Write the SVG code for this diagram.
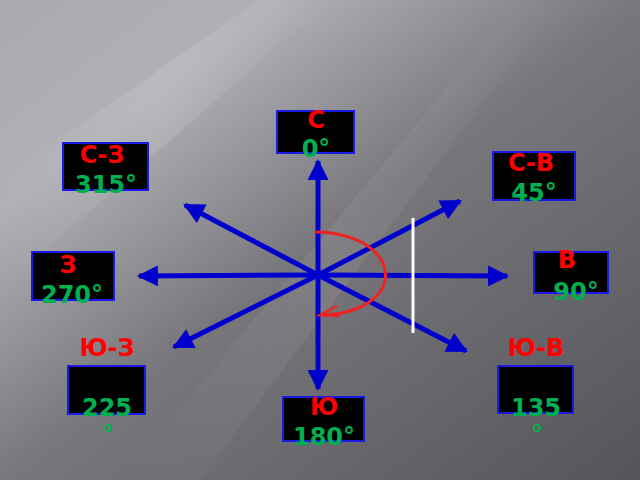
<svg xmlns="http://www.w3.org/2000/svg" width="640" height="480" viewBox="0 0 640 480">
<defs>
<linearGradient id="bg" x1="0" y1="0" x2="1" y2="1">
<stop offset="0" stop-color="#a9a9b0"/>
<stop offset="0.22" stop-color="#b0b0b6"/>
<stop offset="0.5" stop-color="#78787c"/>
<stop offset="1" stop-color="#555559"/>
</linearGradient>
<linearGradient id="streak" x1="0" y1="0" x2="1" y2="0">
<stop offset="0" stop-color="#ffffff" stop-opacity="0"/>
<stop offset="0.5" stop-color="#ffffff" stop-opacity="0.12"/>
<stop offset="1" stop-color="#ffffff" stop-opacity="0"/>
</linearGradient>
<marker id="ah" viewBox="0 0 10 10" refX="9" refY="5" markerWidth="4.4" markerHeight="4.2" orient="auto" markerUnits="strokeWidth">
<path d="M0,0 L10,5 L0,10 Z" fill="#0000cc"/>
</marker>
<style>
.box{fill:#000;stroke:#1a1ae6;stroke-width:2}
.dir{font-family:"DejaVu Sans",sans-serif;font-weight:bold;font-size:24px;fill:#ff0000;text-anchor:middle}
.deg{font-family:"DejaVu Sans",sans-serif;font-weight:bold;font-size:24px;fill:#00b050;text-anchor:middle}
.arr{stroke:#0000cc;stroke-width:5;fill:none;marker-end:url(#ah)}
</style>
</defs>
<rect width="640" height="480" fill="url(#bg)"/>
<polygon points="0,180 260,0 330,0 0,290" fill="url(#streak)"/>
<polygon points="120,480 520,0 560,0 200,480" fill="url(#streak)" opacity="0.6"/>
<g id="connectors">
<line class="arr" x1="318" y1="275" x2="318" y2="161"/>
<line class="arr" x1="318" y1="275" x2="318" y2="389"/>
<line class="arr" x1="318" y1="275" x2="507" y2="276"/>
<line class="arr" x1="318" y1="275" x2="139" y2="276"/>
<line class="arr" x1="318" y1="275" x2="460" y2="201"/>
<line class="arr" x1="318" y1="275" x2="185" y2="205"/>
<line class="arr" x1="318" y1="275" x2="174" y2="347"/>
<line class="arr" x1="318" y1="275" x2="466" y2="351"/>
<line x1="413" y1="218" x2="413" y2="333" stroke="#ffffff" stroke-width="3"/>
<path d="M316,232 C405,234 410,312 322,315" fill="none" stroke="#ee2222" stroke-width="3"/>
<path d="M337,306 L320,315 L340,316" fill="none" stroke="#ee2222" stroke-width="2.5"/>
</g>
<g id="n"><rect class="box" x="277" y="111" width="77" height="42"/><text class="dir" x="316" y="128">С</text><text class="deg" x="316" y="157">0°</text></g>
<g id="nw"><rect class="box" x="63" y="143" width="85" height="47"/><text class="dir" x="102" y="163">С-З</text><text class="deg" x="106" y="193">315°</text></g>
<g id="ne"><rect class="box" x="493" y="152" width="82" height="48"/><text class="dir" x="531" y="171">С-В</text><text class="deg" x="534" y="201">45°</text></g>
<g id="w"><rect class="box" x="32" y="252" width="82" height="48"/><text class="dir" x="68" y="273">З</text><text class="deg" x="72" y="303">270°</text></g>
<g id="e"><rect class="box" x="534" y="252" width="74" height="41"/><text class="dir" x="567" y="268">В</text><text class="deg" x="576" y="300">90°</text></g>
<g id="sw"><text class="dir" x="107" y="356">Ю-З</text><rect class="box" x="68" y="366" width="77" height="48"/><text class="deg" x="107" y="416">225</text><text class="deg" x="108" y="443">°</text></g>
<g id="se"><text class="dir" x="536" y="356">Ю-В</text><rect class="box" x="498" y="366" width="75" height="47"/><text class="deg" x="536" y="416">135</text><text class="deg" x="537" y="443">°</text></g>
<g id="s"><rect class="box" x="283" y="397" width="81" height="44"/><text class="dir" x="324" y="415">Ю</text><text class="deg" x="324" y="445">180°</text></g>
</svg>
